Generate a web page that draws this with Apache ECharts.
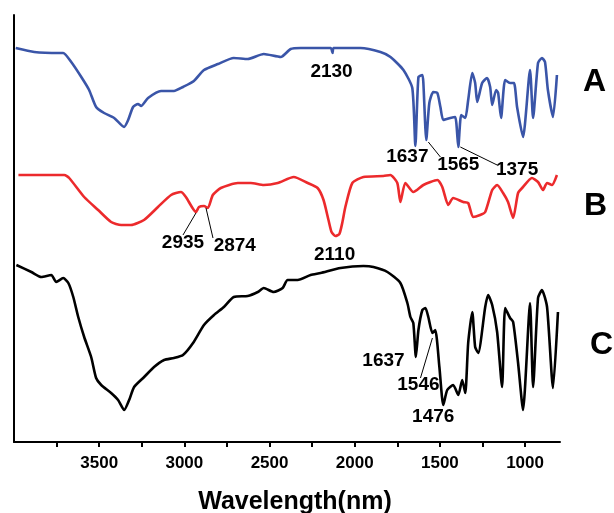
<!DOCTYPE html>
<html>
<head>
<meta charset="utf-8">
<script src="https://cdn.jsdelivr.net/npm/echarts@6/dist/echarts.min.js"></script>
<style>
    html, body { margin: 0; padding: 0; background: #fff; }
    #main { width: 614px; height: 513px; }
</style>
</head>
<body>
<div id="main"></div>
<script>
// wavenumber axis (reversed), tick positions
const majorTicks = [3500, 3000, 2500, 2000, 1500, 1000];
const minorTicks = [3750, 3500, 3250, 3000, 2750, 2500, 2250, 2000, 1750, 1500, 1250, 1000];

// spectrum A (blue)
const aWave = [3990, 3881, 3734, 3711, 3664, 3605, 3559, 3518, 3471, 3412, 3354, 3330, 3301, 3272, 3254, 3213,
    3137, 3061, 3008, 2944, 2885, 2803, 2710, 2628, 2534, 2434, 2376, 2318, 2259, 2141, 2130, 2124, 1966, 1849,
    1790, 1714, 1662, 1644, 1626, 1603, 1597, 1580, 1562, 1539, 1515, 1497, 1480, 1439, 1410, 1392, 1375, 1351,
    1334, 1310, 1293, 1281, 1252, 1223, 1205, 1193, 1170, 1158, 1141, 1117, 1088, 1065, 1047, 1012, 971, 953,
    924, 901, 883, 866, 836, 813];
const aValue = [394, 390, 389, 389, 380, 365, 352, 335, 329, 324, 315, 322, 335, 338, 336, 344,
    351, 351, 355, 361, 372, 378, 384, 383, 388, 385, 393, 394, 394, 394, 389, 394, 394, 390,
    385, 372, 354, 296, 365, 367, 359, 302, 339, 350, 349, 335, 322, 324, 325, 295, 327, 324,
    342, 369, 359, 340, 359, 364, 355, 337, 352, 349, 324, 362, 359, 359, 335, 305, 372, 324,
    379, 384, 380, 352, 325, 367];

// spectrum B (red)
const bWave = [3974, 3705, 3676, 3588, 3506, 3430, 3371, 3313, 3237, 3155, 3078, 3020, 2991, 2932, 2914, 2885,
    2862, 2833, 2786, 2686, 2610, 2534, 2452, 2358, 2276, 2218, 2183, 2154, 2136, 2113, 2090, 2072, 2055, 2014,
    1949, 1832, 1791, 1750, 1732, 1703, 1656, 1597, 1515, 1486, 1451, 1422, 1363, 1334, 1305, 1264, 1234, 1193,
    1164, 1129, 1100, 1070, 1041, 1012, 960, 924, 895, 871, 842, 813];
const bValue = [267, 267, 264, 245, 232, 220, 217, 217, 222, 235, 247, 250, 245, 230, 235, 236,
    234, 247, 254, 259, 259, 257, 259, 265, 259, 254, 242, 222, 210, 206, 208, 220, 235, 259,
    265, 266, 267, 259, 240, 259, 250, 257, 262, 255, 237, 244, 240, 239, 225, 227, 230, 252,
    257, 249, 240, 224, 249, 255, 264, 260, 252, 259, 257, 267];

// spectrum C (black)
const cWave = [3986, 3898, 3840, 3781, 3752, 3711, 3681, 3652, 3623, 3588, 3547, 3518, 3488, 3430, 3389, 3353,
    3324, 3295, 3236, 3178, 3119, 3061, 3008, 2949, 2885, 2826, 2768, 2710, 2628, 2569, 2534, 2476, 2423, 2394,
    2335, 2259, 2200, 2083, 1949, 1890, 1808, 1732, 1691, 1673, 1656, 1641, 1626, 1603, 1585, 1568, 1544, 1527,
    1503, 1480, 1457, 1422, 1392, 1369, 1351, 1334, 1310, 1293, 1275, 1234, 1217, 1193, 1164, 1135, 1117, 1088,
    1070, 1041, 1012, 971, 953, 924, 901, 871, 836, 807];
const cValue = [177, 170, 165, 167, 160, 164, 159, 145, 125, 105, 85, 64, 57, 49, 42, 32,
    42, 55, 65, 75, 82, 84, 87, 99, 117, 127, 135, 145, 146, 150, 154, 150, 154, 162,
    162, 167, 169, 174, 176, 175, 170, 159, 139, 125, 119, 85, 112, 132, 134, 125, 109, 112,
    75, 37, 52, 57, 47, 62, 49, 99, 130, 95, 89, 135, 147, 137, 110, 55, 134, 124,
    120, 79, 32, 139, 55, 144, 152, 135, 54, 130];

// peak annotations
const annoText = ['2130', '1637', '1565', '1375', '2935', '2874', '2110', '1637', '1546', '1476'];
const annoWave = [2136, 1691, 1392, 1047, 3008, 2704, 2118, 1831, 1626, 1539];
const annoValue = [370, 285, 277, 272, 199, 196, 187, 81, 57, 25];

// leader lines [fromWave, fromValue, toWave, toValue]
const leaders = [
    [1568, 300, 1497, 285],
    [1380, 295, 1164, 277],
    [2932, 229, 3008, 207],
    [2873, 234, 2832, 204],
    [1544, 104, 1614, 64]
];

const curveNames = ['A', 'B', 'C'];

const zip = (xs, ys) => xs.map((x, i) => [x, ys[i]]);

const chart = echarts.init(document.getElementById('main'));

const lineSeries = (name, wave, value, color) => ({
    name: name,
    type: 'line',
    data: zip(wave, value),
    showSymbol: false,
    smooth: 0.2,
    lineStyle: { color: color, width: 2.6 },
    silent: true
});

const textFont = { fontFamily: 'Liberation Sans', fontWeight: 'bold', color: '#000', opacity: 1, textBorderWidth: 0 };

const option = {
    animation: false,
    backgroundColor: '#fff',
    grid: { left: 14, right: 54, top: 15, bottom: 71, containLabel: false, outerBoundsMode: 'none' },
    xAxis: {
        type: 'value',
        inverse: true,
        min: 795,
        max: 4000,
        name: 'Wavelength(nm)',
        nameLocation: 'middle',
        nameGap: 48,
        nameTextStyle: Object.assign({}, textFont, { fontSize: 25, padding: [0, 0, 0, 16] }),
        axisLine: { lineStyle: { color: '#000', width: 2 } },
        axisTick: { show: true, customValues: minorTicks, length: 5, lineStyle: { color: '#000', width: 2 } },
        axisLabel: Object.assign({}, textFont, {
            customValues: majorTicks,
            margin: 13,
            fontSize: 17,
            formatter: (v) => String(v)
        }),
        splitLine: { show: false }
    },
    yAxis: {
        type: 'value',
        min: 0,
        max: 427,
        axisLine: { show: true, lineStyle: { color: '#000', width: 2 } },
        axisTick: { show: false },
        axisLabel: { show: false },
        splitLine: { show: false }
    },
    series: [
        lineSeries('A', aWave, aValue, '#3a55a8'),
        lineSeries('B', bWave, bValue, '#ec2a2c'),
        lineSeries('C', cWave, cValue, '#000'),
        {
            name: 'peaks',
            type: 'scatter',
            data: zip(annoWave, annoValue).map((d, i) => ({ value: d, name: annoText[i] })),
            symbolSize: 1,
            itemStyle: { opacity: 0 },
            silent: true,
            label: Object.assign({}, textFont, {
                show: true,
                position: 'inside',
                formatter: (p) => p.name,
                fontSize: 19
            }),
            markLine: {
                silent: true,
                symbol: 'none',
                label: { show: false },
                lineStyle: { color: '#000', width: 1, type: 'solid', opacity: 1 },
                data: leaders.map((l) => [{ coord: [l[0], l[1]] }, { coord: [l[2], l[3]] }])
            }
        }
    ],
    graphic: [
        { type: 'text', left: 583, top: 66, style: { text: curveNames[0], font: 'bold 32px "Liberation Sans"', fill: '#000' } },
        { type: 'text', left: 584, top: 190, style: { text: curveNames[1], font: 'bold 32px "Liberation Sans"', fill: '#000' } },
        { type: 'text', left: 590, top: 329, style: { text: curveNames[2], font: 'bold 32px "Liberation Sans"', fill: '#000' } }
    ]
};

chart.setOption(option);
</script>
</body>
</html>
